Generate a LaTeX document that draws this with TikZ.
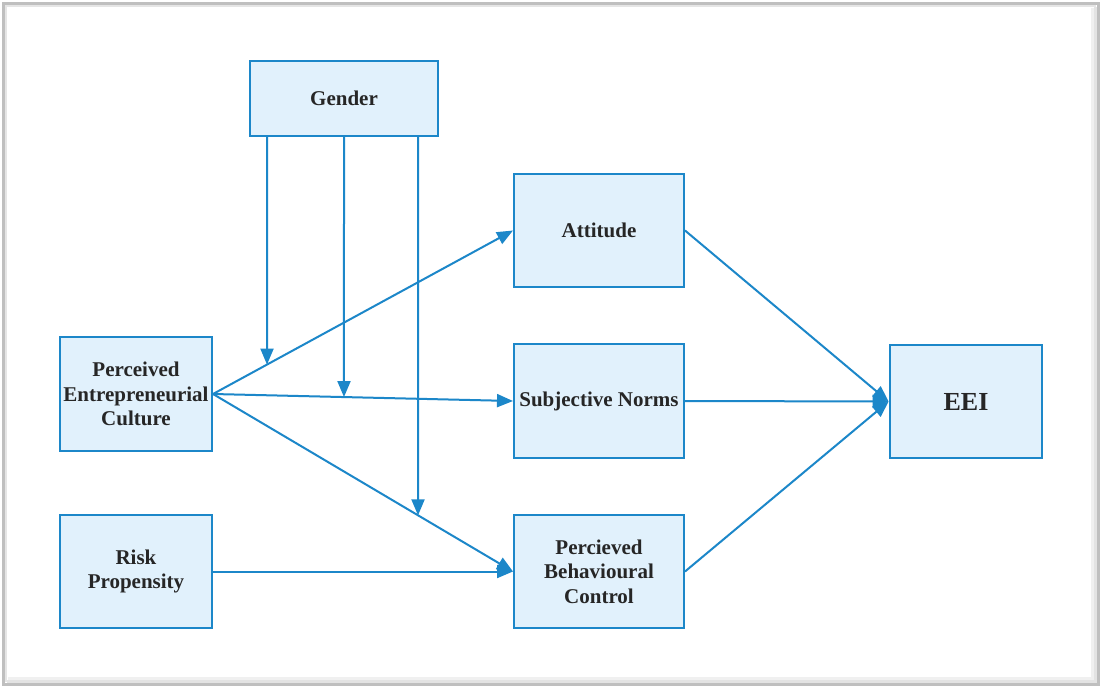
\documentclass[tikz,border=0pt]{standalone}
\usepackage{fontspec}
\setmainfont{Liberation Serif}
\usetikzlibrary{arrows.meta}
\definecolor{lineblue}{HTML}{1C87C9}
\definecolor{boxfill}{HTML}{E1F1FC}
\definecolor{txt}{HTML}{262626}
\tikzset{
  box/.style={draw=lineblue, fill=boxfill, line width=2pt, align=center, text=txt,
    font=\fontsize{21}{24.5}\selectfont\bfseries, inner sep=0pt},
  conn/.style={draw=lineblue, line width=2pt, -{Triangle[length=16pt,width=13pt]}},
}
\begin{document}
\begin{tikzpicture}[x=1pt,y=-1pt]
\useasboundingbox (0,0) rectangle (1102,688);
% outer frame with soft shadow
\fill[white] (0,0) rectangle (1102,688);
\draw[gray!12, line width=6pt] (8,680) -- (1094,680) -- (1094,8);
\draw[gray!22, line width=3pt] (7,681) -- (1095,681) -- (1095,7);
\draw[gray!50, line width=2.5pt] (3.5,3.5) rectangle (1098.5,684.5);
\draw[gray!20, line width=1.5pt] (6,682) -- (6,6) -- (1096,6);
% nodes
\node[box, minimum width=188pt, minimum height=75pt] (gender) at (344,98.5) {Gender};
\node[box, minimum width=170pt, minimum height=113pt] (att) at (599,230.5) {Attitude};
\node[box, minimum width=170pt, minimum height=114pt] (sn) at (599,401) {Subjective Norms};
\node[box, minimum width=170pt, minimum height=113pt] (pbc) at (599,571.5) {Percieved\\Behavioural\\Control};
\node[box, minimum width=152pt, minimum height=114pt] (pec) at (136,394) {Perceived\\Entrepreneurial\\Culture};
\node[box, minimum width=152pt, minimum height=113pt] (risk) at (136,571.5) {Risk\\Propensity};
\node[box, line width=2.8pt, minimum width=152pt, minimum height=113pt, font=\fontsize{26}{30}\selectfont\bfseries] (eei) at (966,401.5) {EEI};
% connectors
\draw[conn] (pec.east) -- (att.west);
\draw[conn] (pec.east) -- (sn.west);
\draw[conn] (pec.east) -- (pbc.west);
\draw[conn] (risk.east) -- (pbc.west);
\draw[conn] (att.east) -- (eei.west);
\draw[conn] (sn.east) -- (eei.west);
\draw[conn] (pbc.east) -- (eei.west);
% moderating arrows from Gender
\coordinate (g1) at ([xshift=-77pt]gender.south);
\coordinate (g2) at (gender.south);
\coordinate (g3) at ([xshift=74pt]gender.south);
\coordinate (m1) at (intersection of g1--{[yshift=-300pt]g1} and pec.east--att.west);
\coordinate (m2) at (intersection of g2--{[yshift=-300pt]g2} and pec.east--sn.west);
\coordinate (m3) at (intersection of g3--{[yshift=-400pt]g3} and pec.east--pbc.west);
\draw[conn] (g1) -- (m1);
\draw[conn] (g2) -- (m2);
\draw[conn] (g3) -- (m3);
\end{tikzpicture}
\end{document}
